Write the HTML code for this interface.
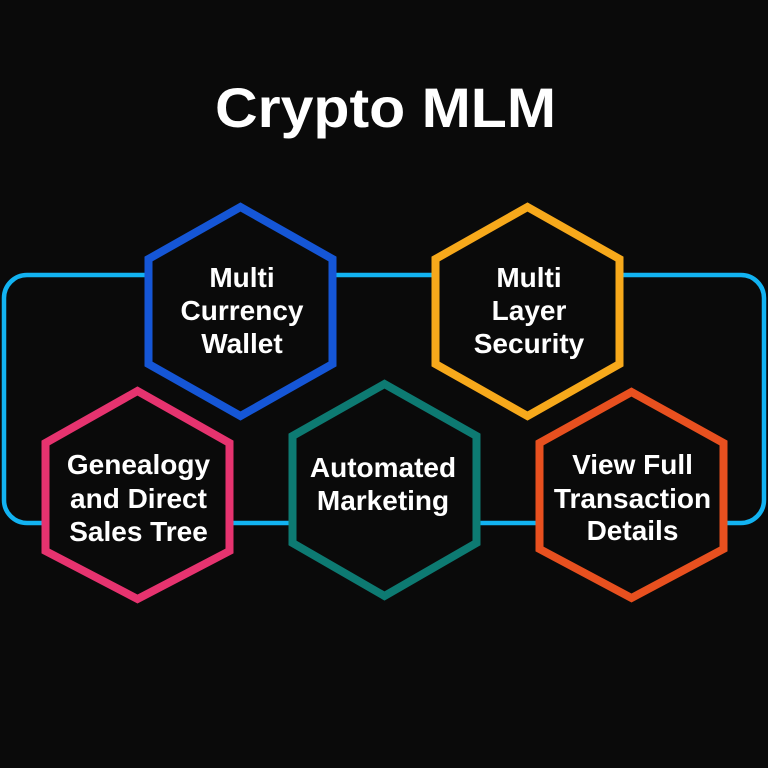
<!DOCTYPE html>
<html>
<head>
<meta charset="utf-8">
<style>
html,body{margin:0;padding:0;background:#0a0a0a;}
svg{display:block;}
</style>
</head>
<body>
<svg width="768" height="768" viewBox="0 0 768 768" xmlns="http://www.w3.org/2000/svg">
  <rect x="0" y="0" width="768" height="768" fill="#0a0a0a"/>
  <text x="385.5" y="127" text-anchor="middle" font-family="'Liberation Sans', sans-serif" font-weight="bold" font-size="56" fill="#ffffff" textLength="341" lengthAdjust="spacingAndGlyphs">Crypto MLM</text>

  <!-- cyan loop -->
  <rect x="4" y="275" width="760" height="248" rx="23" ry="23" fill="none" stroke="#12b3f2" stroke-width="4.5"/>

  <g stroke-width="8" stroke-linejoin="miter" fill="#0a0a0a">
    <!-- blue -->
    <polygon points="240.5,207 332.5,259 332.5,364 240.5,416 148.5,364 148.5,259" stroke="#1556d6"/>
    <!-- yellow -->
    <polygon points="527.5,207 619.5,259 619.5,364 527.5,416 435.5,364 435.5,259" stroke="#f7a91b"/>
    <!-- pink -->
    <polygon points="137.5,391 229.5,443 229.5,551 137.5,599 45.5,551 45.5,443" stroke="#e6336f"/>
    <!-- teal -->
    <polygon points="384.5,384 476.5,436 476.5,543 384.5,596 292.5,543 292.5,436" stroke="#0d7a72"/>
    <!-- orange -->
    <polygon points="631.5,392 723.5,443 723.5,549 631.5,598 539.5,549 539.5,443" stroke="#e8501f"/>
  </g>

  <g font-family="'Liberation Sans', sans-serif" font-weight="bold" font-size="28" fill="#ffffff" text-anchor="middle">
    <text x="242" y="287">Multi</text>
    <text x="242" y="320">Currency</text>
    <text x="242" y="353">Wallet</text>

    <text x="529" y="287">Multi</text>
    <text x="529" y="320">Layer</text>
    <text x="529" y="353">Security</text>

    <text x="138.5" y="474">Genealogy</text>
    <text x="138.5" y="508">and Direct</text>
    <text x="138.5" y="541">Sales Tree</text>

    <text x="383" y="477">Automated</text>
    <text x="383" y="510">Marketing</text>

    <text x="632.5" y="474">View Full</text>
    <text x="632.5" y="508">Transaction</text>
    <text x="632.5" y="540">Details</text>
  </g>
</svg>
</body>
</html>
